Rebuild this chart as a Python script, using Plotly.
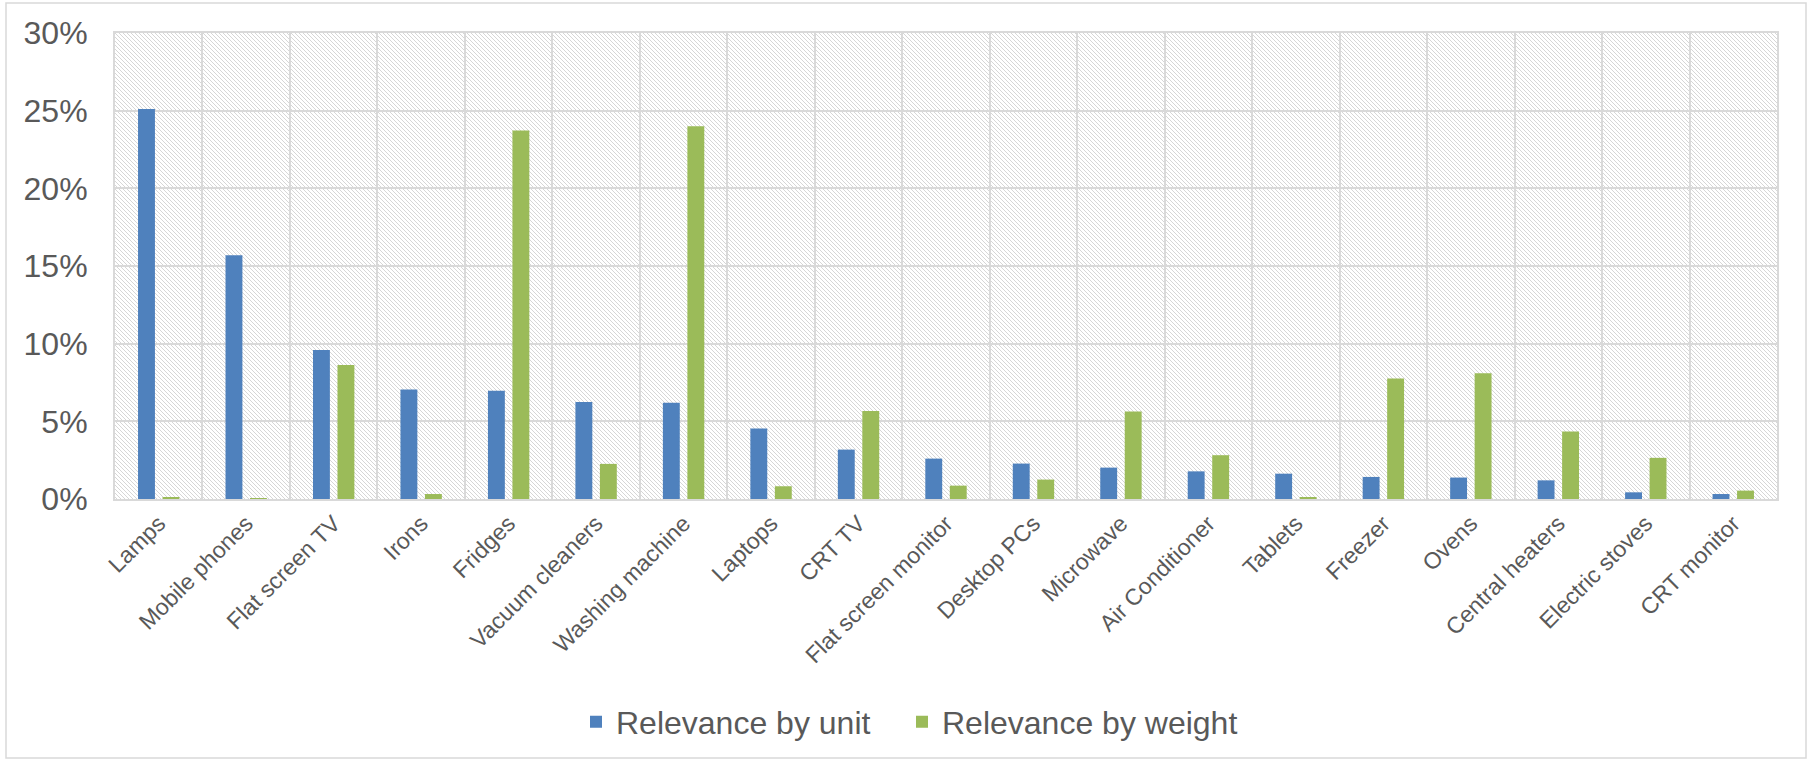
import base64
import plotly.graph_objects as go

categories = ["Lamps", "Mobile phones", "Flat screen TV", "Irons", "Fridges",
              "Vacuum cleaners", "Washing machine", "Laptops", "CRT TV",
              "Flat screen monitor", "Desktop PCs", "Microwave", "Air Conditioner",
              "Tablets", "Freezer", "Ovens", "Central heaters", "Electric stoves",
              "CRT monitor"]
by_unit = [0.251, 0.157, 0.096, 0.0705, 0.0697, 0.0624, 0.0619, 0.0454, 0.0318,
           0.026, 0.0228, 0.0202, 0.0178, 0.0163, 0.0142, 0.0138, 0.012, 0.0043,
           0.0032]
by_weight = [0.001, 0.0005, 0.0862, 0.0032, 0.2372, 0.0226, 0.240, 0.0082, 0.0566,
             0.0086, 0.0125, 0.0563, 0.0282, 0.001, 0.0776, 0.0809, 0.0434, 0.0265,
             0.0054]
series_names = ["Relevance by unit", "Relevance by weight"]
y_ticks = [0, 0.05, 0.10, 0.15, 0.20, 0.25, 0.30]

W, H = 1814, 761
L, R, T, B = 115, 37, 33, 262
PW, PH = W - L - R, H - T - B

FONT = "Liberation Sans, Arial, sans-serif"
TXT = "#595959"
GRID = "#d9d9d9"
HATCH = "#d6d6d6"

# hatched plot-area background (light downward diagonal)
svg = (f'<svg xmlns="http://www.w3.org/2000/svg" width="{PW}" height="{PH}" shape-rendering="crispEdges">'
       '<defs><pattern id="p" width="4" height="4" patternUnits="userSpaceOnUse">'
       f'<rect x="0" y="0" width="1" height="1" fill="{HATCH}"/>'
       f'<rect x="1" y="1" width="1" height="1" fill="{HATCH}"/>'
       f'<rect x="2" y="2" width="1" height="1" fill="{HATCH}"/>'
       f'<rect x="3" y="3" width="1" height="1" fill="{HATCH}"/>'
       '</pattern></defs>'
       f'<rect width="{PW}" height="{PH}" fill="url(#p)"/></svg>')
src = "data:image/svg+xml;base64," + base64.b64encode(svg.encode()).decode()

fig = go.Figure()
fig.add_trace(go.Bar(x=categories, y=by_unit, name=series_names[0], legend="legend",
                     marker=dict(color="#4f81bd", line=dict(width=0))))
fig.add_trace(go.Bar(x=categories, y=by_weight, name=series_names[1], legend="legend2",
                     marker=dict(color="#9bbb59", line=dict(width=0))))

leg_y = (T + PH - 722) / PH
leg_common = dict(orientation="h", xanchor="left", y=leg_y, yanchor="middle",
                  font=dict(size=32, color=TXT, family=FONT), itemwidth=30,
                  bgcolor="rgba(0,0,0,0)")

fig.update_layout(
    width=W, height=H,
    margin=dict(l=L, r=R, t=T, b=B, pad=0),
    paper_bgcolor="white", plot_bgcolor="white",
    barmode="group", bargap=0.44, bargroupgap=0.31,
    font=dict(family=FONT, color=TXT),
    showlegend=True,
    legend=dict(x=(576 - L) / PW, **leg_common),
    legend2=dict(x=(902 - L) / PW, **leg_common),
    images=[dict(source=src, xref="paper", yref="paper", x=0, y=1, sizex=1, sizey=1,
                 sizing="stretch", xanchor="left", yanchor="top", layer="below")],
    shapes=[dict(type="rect", xref="paper", yref="paper",
                 x0=(6 - L) / PW, x1=(1806 - L) / PW,
                 y0=(T + PH - 758) / PH, y1=(T + PH - 3) / PH,
                 line=dict(color=GRID, width=1.5), fillcolor="rgba(0,0,0,0)", layer="below")],
)
fig.update_xaxes(type="category", tickson="boundaries", showgrid=True, gridcolor=GRID,
                 gridwidth=1.5, showline=True, linecolor=GRID, linewidth=2, mirror=True,
                 ticks="", tickangle=-45, tickfont=dict(size=23, color=TXT, family=FONT),
                 zeroline=False)
fig.update_yaxes(range=[0, 0.30], tickvals=y_ticks, tickformat=".0%", showgrid=True,
                 gridcolor=GRID, gridwidth=1.5, showline=True, linecolor=GRID, linewidth=2,
                 mirror=True, ticks="", ticklabelstandoff=19,
                 tickfont=dict(size=32, color=TXT, family=FONT), zeroline=False)

fig.write_html("out.html")
